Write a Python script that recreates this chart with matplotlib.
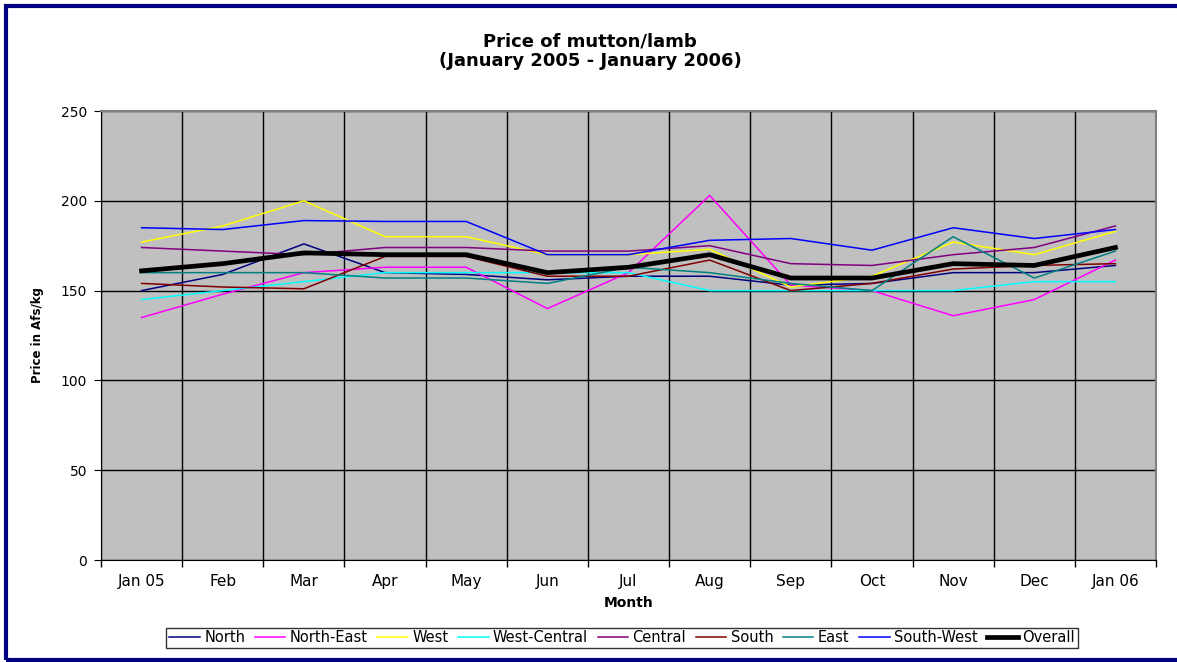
import numpy as np
from matplotlib import pyplot as plt
from matplotlib.patches import Rectangle

months = ['Jan 05', 'Feb', 'Mar', 'Apr', 'May', 'Jun', 'Jul', 'Aug', 'Sep', 'Oct', 'Nov', 'Dec', 'Jan 06']

north         = [150, 159, 176, 160, 159, 156, 158, 158, 153, 154, 160, 160, 164]
north_east    = [135, 148, 160, 163, 163, 140, 160, 203, 153, 150, 136, 145, 167]
west          = [177, 186, 200, 180, 180, 170, 170, 173, 152, 158, 177, 170, 183]
west_central  = [145, 150, 155, 160, 160, 160, 160, 150, 150, 150, 150, 155, 155]
central       = [174, 172, 170, 174, 174, 172, 172, 175, 165, 164, 170, 174, 186]
south         = [154, 152, 151, 169, 169, 158, 158, 167, 150, 154, 162, 164, 165]
east          = [160, 160, 160, 157, 157, 154, 163, 160, 154, 150, 180, 157, 172]
south_west    = [185, 184, 189, 188.5, 188.5, 170, 170, 178, 179, 172.5, 185, 179, 184]
overall       = [161, 165, 171, 170, 170, 160, 163, 170, 157, 157, 165, 164, 174]

series = [
	('North', north, '#000080'),
	('North-East', north_east, '#FF00FF'),
	('West', west, '#FFFF00'),
	('West-Central', west_central, '#00FFFF'),
	('Central', central, '#800080'),
	('South', south, '#800000'),
	('East', east, '#008080'),
	('South-West', south_west, '#0000FF'),
]

plt.rcParams['font.family'] = ['DejaVu Sans']

fig = plt.figure(figsize=(11.77, 6.62), dpi=100)
ax = fig.add_axes([101/1177, 102/662, 1055/1177, 449/662])
ax.set_facecolor('#C0C0C0')

x = np.arange(len(months))
for name, vals, col in series:
	ax.plot(x, vals, color=col, lw=1.1, label=name, zorder=3)
ax.plot(x, overall, color='black', lw=3.4, label='Overall', zorder=4)

ax.set_xlim(-0.5, len(months) - 0.5)
ax.set_ylim(0, 250)
ax.set_yticks(range(0, 251, 50))
ax.set_xticks(np.arange(-0.5, len(months), 1))
ax.set_xticklabels([])
ax.set_xticks(x, minor=True)
ax.set_xticklabels(months, minor=True, fontsize=11)
ax.tick_params(axis='x', which='major', direction='out', length=5, width=1)
ax.tick_params(axis='x', which='minor', length=0, pad=10)
ax.tick_params(axis='y', direction='out', length=5, labelsize=10, pad=5)

ax.grid(True, which='major', color='black', lw=1, zorder=1)
for s in ['top', 'right']:
	ax.spines[s].set_color('#808080')
	ax.spines[s].set_linewidth(1.5)

ax.set_xlabel('Month', fontsize=10, fontweight='bold', labelpad=5)
ax.set_ylabel('Price in Afs/kg', fontsize=8.5, fontweight='bold', labelpad=12)

fig.text(590/1177, 0.922, 'Price of mutton/lamb\n(January 2005 - January 2006)',
	ha='center', va='center', fontsize=13, fontweight='bold', linespacing=1.1)

leg = fig.legend(loc='center', bbox_to_anchor=(622/1177, 24/662), ncol=9, fontsize=10.5,
	frameon=True, fancybox=False, edgecolor='black', handlelength=2.1,
	handletextpad=0.3, columnspacing=0.65, borderpad=0.2, borderaxespad=0)
leg.get_frame().set_linewidth(1)

# dark blue chart border (right edge cut off in the original)
fig.patches.append(Rectangle((5.5/1177, 2/662), 1.2, 654.5/662,
	transform=fig.transFigure, fill=False, edgecolor='#000080', lw=3, zorder=10))

plt.savefig('out.png', dpi=100)
